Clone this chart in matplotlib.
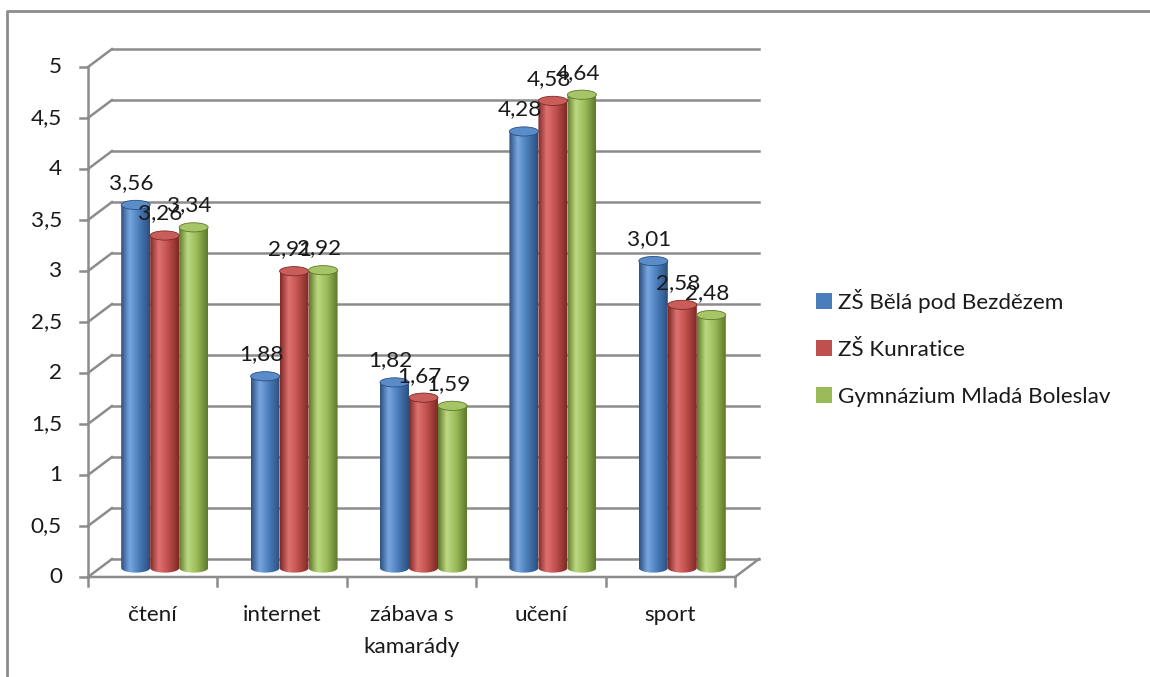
#!/usr/bin/env python3
"""Czech survey chart: 3D-style cylinder bars per activity and school."""

import numpy as np
import matplotlib
matplotlib.use("Agg")
import matplotlib.pyplot as plt
from matplotlib.colors import LinearSegmentedColormap
from matplotlib.patches import Ellipse, PathPatch, Patch
from matplotlib.path import Path
from matplotlib.lines import Line2D

categories = ["čtení", "internet", "zábava s\nkamarády", "učení", "sport"]
series_names = ["ZŠ Bělá pod Bezdězem", "ZŠ Kunratice", "Gymnázium Mladá Boleslav"]
bela = [3.56, 1.88, 1.82, 4.28, 3.01]
kunratice = [3.26, 2.91, 1.67, 4.58, 2.58]
gymnazium = [3.34, 2.92, 1.59, 4.64, 2.48]
y_ticks = [0, 0.5, 1, 1.5, 2, 2.5, 3, 3.5, 4, 4.5, 5]

# (edge, highlight, body, cap)
palettes = [
    ("#2b4f7f", "#78a7e0", "#4a7dbb", "#5a8cca"),
    ("#7e2826", "#de726f", "#c0504d", "#c95d5a"),
    ("#5d7829", "#bcd982", "#9bbb59", "#a6c566"),
]

plt.rcParams["font.family"] = ["Lato", "DejaVu Sans"]
FS = 16.2
GRID = "#8c8c8c"
TXT = "#1a1a1a"

fig = plt.figure(figsize=(11.5, 6.77), dpi=100)
ax = fig.add_axes([88 / 1150, 100 / 677, 679.4 / 1150, 535.5 / 677])
ax.set_xlim(0, 5.25)
ax.set_ylim(0, 5.25)
ax.axis("off")

dx, dy = 0.185, 0.176
n = len(categories)

# walls and gridlines
for v in y_ticks:
    ax.plot([dx, n + dx], [v + dy, v + dy], color=GRID, lw=1.8, zorder=1, clip_on=False)
    ax.plot([0, dx], [v, v + dy], color=GRID, lw=1.8, zorder=1, clip_on=False)
    ax.plot([-0.06, 0], [v, v], color=GRID, lw=1.8, zorder=1, clip_on=False)
    ax.text(-0.2, v, f"{v:g}".replace(".", ","), ha="right", va="center",
            fontsize=FS, color=TXT)
ax.plot([0, 0], [0, 5], color=GRID, lw=1.8, zorder=1, clip_on=False)
ax.plot([0, n, n + dx], [0, 0, dy], color=GRID, lw=1.8, zorder=6, clip_on=False)
for i in range(n + 1):
    ax.plot([i, i], [0, -0.09], color=GRID, lw=1.8, zorder=1, clip_on=False)
for i, cat in enumerate(categories):
    ax.text(i + 0.5, -0.27, cat, ha="center", va="top", fontsize=FS,
            color=TXT, linespacing=1.8)

# cylinders
bw = 0.224
eh = 0.09
base = dy / 2
grad = np.linspace(0, 1, 200).reshape(1, -1)
theta = np.linspace(np.pi, 2 * np.pi, 40)
for j, vals in enumerate([bela, kunratice, gymnazium]):
    edge, hi, body, cap = palettes[j]
    cmap = LinearSegmentedColormap.from_list(
        f"c{j}", [(0, edge), (0.3, hi), (0.62, body), (1, edge)])
    for i, v in enumerate(vals):
        xc = i + 0.5 + dx / 2 + (j - 1) * bw
        x0, x1 = xc - bw / 2, xc + bw / 2
        top = v + base
        arc_x = xc + bw / 2 * np.cos(theta)
        arc_y = base + eh / 2 * np.sin(theta)
        verts = [(x0, top)] + list(zip(arc_x, arc_y)) + [(x1, top), (x0, top)]
        codes = [Path.MOVETO] + [Path.LINETO] * (len(verts) - 2) + [Path.CLOSEPOLY]
        shape = PathPatch(Path(verts, codes), facecolor="none", edgecolor="none",
                          transform=ax.transData)
        ax.add_patch(shape)
        im = ax.imshow(grad, cmap=cmap, extent=[x0, x1, base - eh, top],
                       aspect="auto", zorder=3 + j * 0.01, interpolation="bicubic")
        im.set_clip_path(shape)
        ax.add_patch(Ellipse((xc, top), bw, eh, facecolor=cap, edgecolor=edge,
                             lw=0.6, zorder=3.5 + j * 0.01))
        ax.annotate(f"{v:.2f}".replace(".", ","), (xc, v), xytext=(-4, 31),
                    textcoords="offset pixels", ha="center", va="center",
                    fontsize=FS, color=TXT, zorder=10)

ax.set_xlim(0, 5.25)
ax.set_ylim(0, 5.25)

# legend
handles = [Patch(facecolor=p[2], edgecolor="none") for p in palettes]
fig.legend(handles, series_names, loc="center left",
           bbox_to_anchor=(796 / 1150, 1 - 348 / 677), frameon=False,
           fontsize=FS, handlelength=0.7, handleheight=0.7, handletextpad=0.25,
           labelspacing=1.2, labelcolor=TXT)

# outer chart border (top and left visible)
fig.add_artist(Line2D([7 / 1150, 7 / 1150, 1.0], [0, 1 - 11 / 677, 1 - 11 / 677],
                      transform=fig.transFigure, color="#8c8c8c", lw=2))

fig.savefig("out.png", dpi=100)
